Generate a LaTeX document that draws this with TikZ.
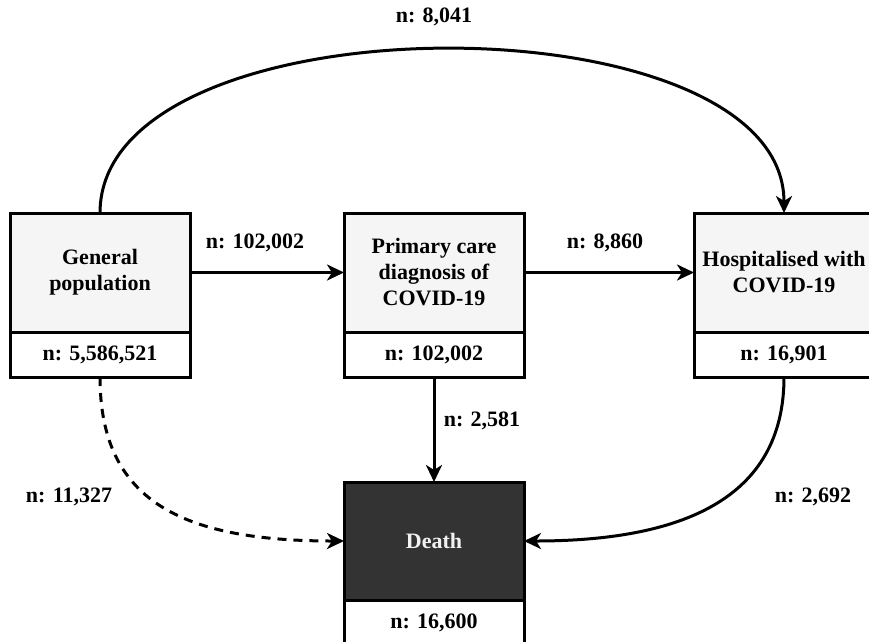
\documentclass[tikz,border=0pt]{standalone}
\usepackage{fontspec}
\setmainfont{Liberation Serif}
\usetikzlibrary{arrows.meta}
\tikzset{
  base/.style={draw=black, line width=3pt, outer sep=0pt, inner sep=0pt, align=center,
    minimum width=180pt, font=\fontsize{22}{26}\selectfont\bfseries},
  topbox/.style={base, fill=black!4, minimum height=119pt},
  botbox/.style={base, fill=white, minimum height=45pt},
  darkbox/.style={base, fill=black!80, text=black!5, minimum height=118pt},
  conn/.style={line width=3pt, -{Stealth[length=17pt, width=16pt, inset=5pt]}},
  lbl/.style={font=\fontsize{22}{26}\selectfont\bfseries, inner sep=0pt}
}
\begin{document}
\begin{tikzpicture}[x=1pt, y=-1pt]
\useasboundingbox (0,0) rectangle (869,641);
\clip (0,0) rectangle (869,641);
\fill[white] (0,0) rectangle (869,641);
% boxes
\node[topbox] (gen) at (100,272.5) {General\\population};
\node[botbox] (genb) at (100,354.5) {n: 5,586,521};
\node[topbox] (pri) at (434,272.5) {Primary care\\diagnosis of\\COVID-19};
\node[botbox] (prib) at (434,354.5) {n: 102,002};
\node[topbox] (hos) at (784,272.5) {Hospitalised with\\COVID-19};
\node[botbox] (hosb) at (784,354.5) {n: 16,901};
\node[darkbox] (dea) at (434,541) {Death};
\node[botbox] (deab) at (434,623) {n: 16,600};
% connectors
\draw[conn] (gen.north) .. controls +(0,-218) and +(0,-218) .. (hos.north);
\draw[conn] (gen.east) -- (pri.west);
\draw[conn] (pri.east) -- (hos.west);
\draw[conn] (prib.south) -- (dea.north);
\draw[conn] (hosb.south) .. controls +(0,123) and +(156,0) .. (dea.east);
\draw[conn, dash pattern=on 9pt off 7pt] (genb.south) .. controls +(0,123) and +(-164,0) .. (dea.west);
% labels
\node[lbl] (l1) at (434,17) {n: 8,041};
\node[lbl] (l2) at (255,243) {n: 102,002};
\node[lbl] (l3) at (605,243) {n: 8,860};
\node[lbl] (l4) at (482,421) {n: 2,581};
\node[lbl] (l5) at (69,497) {n: 11,327};
\node[lbl] (l6) at (813,497) {n: 2,692};
\end{tikzpicture}
\end{document}
